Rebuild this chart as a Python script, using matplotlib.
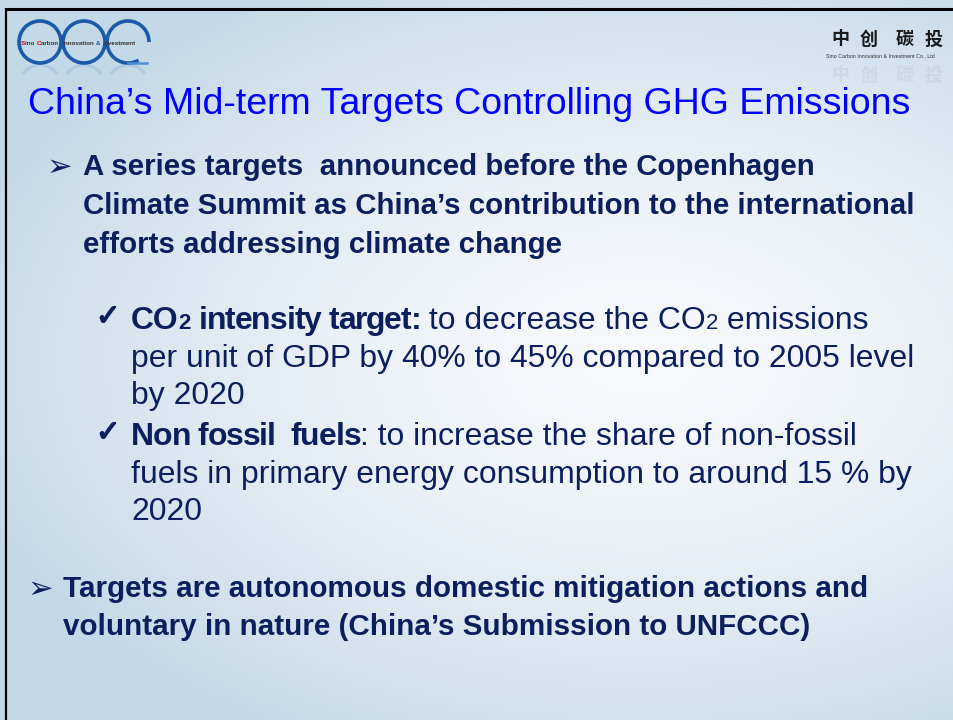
import numpy as np
import matplotlib
matplotlib.use("Agg")
import matplotlib.pyplot as plt
import matplotlib.patheffects as pe
from matplotlib.patches import Arc, Circle

W, H = 954, 720
NAVY = "#0b1f5e"
BLUE = "#0000ff"
FONT = "Liberation Sans"

title = "China\u2019s Mid-term Targets Controlling GHG Emissions"

# segments: (text, weight, size scale, extra tracking in px per char)
main1 = [
    [("A series targets  announced before the Copenhagen", "bold", 1.0, 0)],
    [("Climate Summit as China\u2019s contribution to the international", "bold", 1.0, 0)],
    [("efforts addressing climate change", "bold", 1.0, 0)],
]
sub1 = [
    [("CO", "bold", 1.0, 0), ("2", "bold", 0.7, 0), (" intensity target:", "bold", 1.0, -1.05),
     (" to decrease the CO", "normal", 1.0, 0), ("2", "normal", 0.7, 0), (" emissions", "normal", 1.0, 0)],
    [("per unit of GDP by 40% to 45% compared to 2005 level", "normal", 1.0, 0)],
    [("by 2020", "normal", 1.0, 0)],
]
sub2 = [
    [("Non fossil  fuels", "bold", 1.0, -1.0), (": to increase the share of non-fossil", "normal", 1.0, 0)],
    [("fuels in primary energy consumption to around 15 % by", "normal", 1.0, 0)],
    [("2020", "normal", 1.0, 0)],
]
main2 = [
    [("Targets are autonomous domestic mitigation actions and", "bold", 1.0, 0)],
    [("voluntary in nature (China\u2019s Submission to UNFCCC)", "bold", 1.0, 0)],
]
logo_cn = ["中", "创", "碳", "投"]
logo_cn_x = [840, 869, 905, 934]
logo_en = "Sino Carbon Innovation & Investment Co., Ltd"

fig = plt.figure(figsize=(W / 100, H / 100), dpi=100)
ax = fig.add_axes([0, 0, 1, 1])
ax.set_xlim(0, W)
ax.set_ylim(H, 0)
ax.axis("off")

# background gradient
yy, xx = np.mgrid[0:H, 0:W]
d = np.sqrt(((xx - 640) / 700.0) ** 2 + ((yy - 360) / 430.0) ** 2)
t = np.clip(d, 0, 1) ** 1.6
c0 = np.array([247, 249, 252]) / 255.0
c1 = np.array([196, 217, 232]) / 255.0
img = c0[None, None, :] * (1 - t[..., None]) + c1[None, None, :] * t[..., None]
ax.imshow(img, extent=(0, W, H, 0), aspect="auto", zorder=0)

# border
ax.plot([5, W], [8.5, 8.5], color="black", lw=2.2, zorder=5, solid_capstyle="butt")
ax.plot([6, 6], [8, H], color="black", lw=1.6, zorder=5, solid_capstyle="butt")

fig.canvas.draw()
renderer = fig.canvas.get_renderer()


def seg_width(txt, weight, size, family=FONT):
    a = ax.text(0, 0, "x" + txt + "x", fontsize=size, fontweight=weight, family=family)
    b = ax.text(0, 0, "xx", fontsize=size, fontweight=weight, family=family)
    w = a.get_window_extent(renderer).width - b.get_window_extent(renderer).width
    a.remove()
    b.remove()
    return w


def seg_adv(s, wt, size, track):
    if track == 0:
        return seg_width(s, wt, size)
    return sum(seg_width(ch, wt, size) + track for ch in s)


def line_width(segs, size):
    return sum(seg_adv(s, wt, size * sc, tr) for s, wt, sc, tr in segs)


def fit(segs, target):
    return 10.0 * target / line_width(segs, 10.0)


def draw_line(x, y, segs, size, color):
    for s, wt, sc, tr in segs:
        if tr == 0:
            ax.text(x, y, s, fontsize=size * sc, fontweight=wt, family=FONT,
                    color=color, va="baseline", ha="left", zorder=6)
            x += seg_width(s, wt, size * sc)
        else:
            for ch in s:
                ax.text(x, y, ch, fontsize=size * sc, fontweight=wt, family=FONT,
                        color=color, va="baseline", ha="left", zorder=6)
                x += seg_width(ch, wt, size * sc) + tr


# title
ts = fit([(title, "normal", 1.0, 0)], 884)
draw_line(28, 114, [(title, "normal", 1.0, 0)], ts, BLUE)

# main bullet 1
s1 = fit(main1[1], 831)
for i, segs in enumerate(main1):
    draw_line(83, 175 + 39 * i, segs, s1, NAVY)
ax.text(47, 176, "\u27a2", fontsize=22, family="DejaVu Sans", color=NAVY,
        va="baseline", ha="left", zorder=6)

# sub bullets
s2 = fit(sub1[1], 785)
for i, segs in enumerate(sub1):
    draw_line(131, 329 + 37.5 * i, segs, s2, NAVY)
for i, segs in enumerate(sub2):
    draw_line(131, 445 + 37.5 * i, segs, s2, NAVY)
for yb in (329, 445):
    ax.text(96, yb - 4, "\u2713", fontsize=21, family="DejaVu Sans",
            color=NAVY, va="baseline", ha="left", zorder=6,
            path_effects=[pe.withStroke(linewidth=1.1, foreground=NAVY)])

# main bullet 2
s3 = fit(main2[0], 805)
for i, segs in enumerate(main2):
    draw_line(63, 597 + 38 * i, segs, s3, NAVY)
ax.text(28, 598, "\u27a2", fontsize=22, family="DejaVu Sans", color=NAVY,
        va="baseline", ha="left", zorder=6)

# left logo: rings and reflections
ring_c = "#1b5aa8"
for cx in (40, 84):
    ax.add_patch(Circle((cx, 42), 21, fill=False, ec=ring_c, lw=2.6, zorder=4))
    ax.add_patch(Arc((cx, 86), 42, 42, theta1=215, theta2=325, ec="#9fbfdb", lw=2.2, alpha=0.55, zorder=3))
ax.add_patch(Arc((128, 42), 42, 42, theta1=60, theta2=360, ec=ring_c, lw=2.6, zorder=4))
ax.plot([128, 147], [63, 63], color="#4f8fcf", lw=1.8, zorder=4)
ax.add_patch(Arc((128, 86), 42, 42, theta1=215, theta2=325, ec="#9fbfdb", lw=2.2, alpha=0.55, zorder=3))
logo_parts = [("S", "#d01010"), ("ino ", "#333333"), ("C", "#d01010"), ("arbon  ", "#333333"),
              ("I", "#d01010"), ("nnovation ", "#333333"), ("& ", "#1b5aa8"),
              ("I", "#d01010"), ("nvestment", "#333333")]
x = 21
for s, col in logo_parts:
    ax.text(x, 45, s, fontsize=4.5, fontweight="bold", family=FONT, color=col,
            va="baseline", ha="left", zorder=6)
    x += seg_width(s, "bold", 4.5) * 1.02

# right logo
for cx, ch in zip(logo_cn_x, logo_cn):
    ax.text(cx, 39, ch, fontsize=13, fontweight="bold", family="Noto Sans CJK SC",
            color="#1a1a1a", ha="center", va="center", zorder=6)
    ax.text(cx, 75, ch, fontsize=13, fontweight="bold", family="Noto Sans CJK SC",
            color="#999999", alpha=0.15, ha="center", va="center", zorder=6)
ax.text(826, 57, logo_en, fontsize=3.8, family=FONT, color="#333333",
        ha="left", va="baseline", zorder=6)

fig.savefig("out.png", dpi=100)
